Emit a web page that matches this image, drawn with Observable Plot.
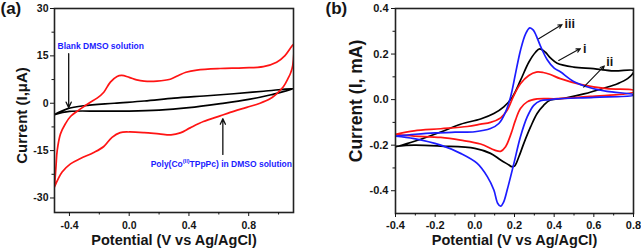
<!DOCTYPE html>
<html><head><meta charset="utf-8">
<script src="https://cdn.jsdelivr.net/npm/d3@7"></script>
<script src="https://cdn.jsdelivr.net/npm/@observablehq/plot@0.6"></script>
<style>
html,body{margin:0;padding:0;background:#fff;}
#wrap{position:relative;width:641px;height:252px;overflow:hidden;background:#fff;}
#pa{position:absolute;left:0;top:0;}
#pb{position:absolute;left:320px;top:0;}
svg{overflow:visible;}
</style></head><body><div id="wrap"><div id="pa"></div><div id="pb"></div></div>
<script>
// ---------- Panel (a) data ----------
const polyE = [-0.5,-0.49,-0.482,-0.46,-0.427,-0.393,-0.326,-0.26,-0.215,-0.17,-0.126,-0.081,-0.05,0.0,0.05,0.1,0.186,0.275,0.33,0.38,0.453,0.609,0.765,0.898,0.987,1.043,1.088,1.1,1.095,1.08,1.065,1.032,0.987,0.943,0.876,0.787,0.676,0.609,0.497,0.408,0.342,0.28,0.2,0.1,0.0,-0.06,-0.115,-0.17,-0.237,-0.326,-0.393,-0.449,-0.5];
const polyI = [-26.5,-20,-15.0,-9.7,-6.5,-4.2,-1.8,0.3,1.6,3.5,6.7,8.5,8.8,8.2,7.4,7.0,7.0,7.6,8.8,9.8,10.5,11.0,11.2,11.6,13.0,15.1,18.0,18.6,12,9.5,8.0,5.2,3.0,1.4,0.0,-1.3,-2.9,-4.0,-5.8,-7.8,-9.4,-10.0,-9.7,-9.3,-9.1,-9.3,-10.8,-13.7,-15.6,-17.5,-19.2,-21.8,-26.5];
const blankE = [-0.5,-0.415,-0.304,-0.1,0.1,0.3,0.5,0.7,0.9,1.1,0.95,0.8,0.6,0.4,0.2,0.0,-0.2,-0.4,-0.5];
const blankI = [-3.6,-1.8,-0.8,0.0,0.7,1.6,2.3,3.0,3.8,4.6,2.7,1.2,-0.2,-1.4,-2.2,-2.5,-2.5,-2.6,-3.6];
const aXTicks = [-0.4, 0.0, 0.4, 0.8];
const aXTickLabels = ["-0.4", "0.0", "0.4", "0.8"];
const aXMinor = [-0.2, 0.2, 0.6, 1.0];
const aYTicks = [-30, -15, 0, 15, 30];
const aYTickLabels = ["-30", "-15", "0", "15", "30"];
const aYMinor = [-22.5, -7.5, 7.5, 22.5];
const aXTitle = "Potential (V vs Ag/AgCl)";
const aYTitle = "Current (I,\u03bcA)";
const aPanel = "(a)";
const aNotes = [
  {text: "Blank DMSO solution", E: -0.48, I: 18.0},
  {text: "Poly(Co(II)TPpPc) in DMSO solution", E: 1.09, I: -19.2}
];
const aArrows = [
  {E1: -0.405, I1: 15.7, E2: -0.405, I2: -1.4},
  {E1: 0.627, I1: -16.2, E2: 0.627, I2: -4.9}
];

// ---------- Panel (b) data ----------
const iE = [-0.4,-0.3,-0.172,-0.072,0.029,0.096,0.146,0.189,0.23,0.272,0.306,0.327,0.356,0.381,0.415,0.498,0.599,0.7,0.8,0.8,0.77,0.72,0.65,0.55,0.45,0.381,0.347,0.314,0.281,0.247,0.222,0.2,0.185,0.172,0.13,0.079,0.0,-0.172,-0.306,-0.4];
const iI = [-0.208,-0.182,-0.142,-0.108,-0.085,-0.061,-0.032,0.011,0.084,0.164,0.208,0.223,0.208,0.183,0.16,0.143,0.136,0.126,0.128,0.12,0.092,0.07,0.05,0.025,0.006,-0.002,-0.025,-0.061,-0.12,-0.192,-0.251,-0.292,-0.294,-0.287,-0.265,-0.236,-0.214,-0.204,-0.2,-0.205];
const iiE = [-0.4,-0.306,-0.172,-0.038,0.029,0.079,0.13,0.163,0.197,0.23,0.272,0.31,0.345,0.381,0.431,0.532,0.666,0.8,0.8,0.582,0.415,0.314,0.264,0.23,0.205,0.18,0.155,0.13,0.1,0.029,-0.072,-0.172,-0.306,-0.4];
const iiI = [-0.152,-0.137,-0.128,-0.118,-0.108,-0.1,-0.08,-0.047,0.019,0.07,0.106,0.121,0.119,0.11,0.092,0.067,0.048,0.041,0.033,0.014,0.004,0.003,-0.01,-0.039,-0.09,-0.156,-0.207,-0.227,-0.222,-0.195,-0.178,-0.166,-0.16,-0.154];
const iiiE = [-0.4,-0.3,-0.2,-0.1,0.0,0.079,0.121,0.155,0.18,0.205,0.23,0.256,0.277,0.295,0.31,0.331,0.365,0.4,0.431,0.498,0.582,0.666,0.8,0.8,0.6,0.415,0.381,0.331,0.297,0.264,0.23,0.197,0.163,0.145,0.13,0.115,0.096,0.063,0.012,-0.072,-0.172,-0.306,-0.4];
const iiiI = [-0.16,-0.152,-0.146,-0.143,-0.141,-0.127,-0.105,-0.054,0.011,0.114,0.216,0.289,0.315,0.305,0.28,0.235,0.175,0.138,0.122,0.08,0.052,0.036,0.022,0.019,0.01,0.003,0.0,-0.005,-0.025,-0.076,-0.163,-0.28,-0.397,-0.45,-0.468,-0.455,-0.397,-0.338,-0.28,-0.236,-0.2,-0.171,-0.16];
const bXTicks = [-0.4, -0.2, 0.0, 0.2, 0.4, 0.6, 0.8];
const bXTickLabels = ["-0.4", "-0.2", "0.0", "0.2", "0.4", "0.6", "0.8"];
const bXMinor = [-0.3, -0.1, 0.1, 0.3, 0.5, 0.7];
const bYTicks = [-0.4, -0.2, 0.0, 0.2, 0.4];
const bYTickLabels = ["-0.4", "-0.2", "0.0", "0.2", "0.4"];
const bYMinor = [-0.3, -0.1, 0.1, 0.3];
const bXTitle = "Potential (V vs Ag/AgCl)";
const bYTitle = "Current (I, mA)";
const bPanel = "(b)";
const bNotes = [
  {text: "iii", E: 0.452, I: 0.332},
  {text: "i", E: 0.546, I: 0.223},
  {text: "ii", E: 0.663, I: 0.167}
];
const bArrows = [
  {E1: 0.322, I1: 0.267, E2: 0.44, I2: 0.330},
  {E1: 0.423, I1: 0.172, E2: 0.532, I2: 0.224},
  {E1: 0.549, I1: 0.055, E2: 0.653, I2: 0.148}
];

// ---------- helpers ----------
const rows = (E, I) => E.map((e, k) => ({E: e, I: I[k]}));
const fmt = (ticks, labels) => { const m = new Map(ticks.map((t, k) => [t, labels[k]])); return d => m.get(d) ?? ""; };
const INK = "#151515";
const RED = "#ff1414";
const BLUE = "#1c1cff";
const FONT = "'Liberation Sans', Arial, Helvetica, sans-serif";

// ---------- Panel (a) ----------
const plotA = Plot.plot({
  width: 320, height: 252,
  marginLeft: 54, marginRight: 27, marginTop: 8, marginBottom: 40,
  x: {domain: [-0.5, 1.1]},
  y: {domain: [-34.6, 30]},
  style: {fontFamily: FONT, fontWeight: "bold", fontSize: "10.5px", color: INK, background: "white", overflow: "visible"},
  marks: [
    Plot.line(rows(blankE, blankI), {x: "E", y: "I", stroke: "#000", strokeWidth: 1.7, curve: "catmull-rom", clip: true}),
    Plot.line(rows(polyE, polyI), {x: "E", y: "I", stroke: RED, strokeWidth: 1.7, curve: "catmull-rom", clip: true}),
    Plot.frame({stroke: "#222", strokeWidth: 1.6}),
    Plot.axisX({ticks: aXTicks, tickSize: 4, tickPadding: 5, tickFormat: fmt(aXTicks, aXTickLabels), label: null, stroke: INK}),
    Plot.axisX({ticks: aXMinor, tickSize: 2.5, tickFormat: () => "", label: null, stroke: INK}),
    Plot.axisY({ticks: aYTicks, tickSize: 4, tickPadding: 2, tickFormat: fmt(aYTicks, aYTickLabels), label: null, stroke: INK}),
    Plot.axisY({ticks: aYMinor, tickSize: 2.5, tickFormat: () => "", label: null, stroke: INK}),
    Plot.text([aXTitle], {text: d => d, frameAnchor: "bottom", dy: 28, textAnchor: "middle", lineAnchor: "middle", fontSize: 14.5, fontWeight: "bold", fill: INK}),
    Plot.text([aYTitle], {text: d => d, frameAnchor: "left", rotate: -90, dx: -32, dy: 5, textAnchor: "middle", lineAnchor: "middle", fontSize: 15, fontWeight: "bold", fill: INK}),
    Plot.text([aPanel], {text: d => d, frameAnchor: "top-left", dx: -54, dy: 0, textAnchor: "start", lineAnchor: "middle", fontSize: 17, fontWeight: "bold", fill: INK}),
    Plot.text([aNotes[0]], {x: "E", y: "I", text: "text", textAnchor: "start", fontSize: 8.5, fontWeight: "bold", fill: BLUE}),
    Plot.text([aNotes[1]], {x: "E", y: "I", text: "text", textAnchor: "end", fontSize: 8.5, fontWeight: "bold", fill: BLUE}),
    Plot.arrow(aArrows, {x1: "E1", y1: "I1", x2: "E2", y2: "I2", stroke: "#111", strokeWidth: 1.3, headLength: 7, headAngle: 50})
  ]
});
document.getElementById("pa").appendChild(plotA);

// superscript (II)
d3.select(plotA).selectAll("text").filter(function () { return this.textContent === aNotes[1].text; }).each(function () {
  const parts = aNotes[1].text.split("(II)");
  const t = d3.select(this);
  t.text(null);
  t.append("tspan").text(parts[0]);
  t.append("tspan").attr("font-size", 5.5).attr("dy", -3.5).text("(II)");
  t.append("tspan").attr("dy", 3.5).text(parts[1]);
});

// ---------- Panel (b) ----------
const plotB = Plot.plot({
  width: 321, height: 252,
  marginLeft: 75, marginRight: 8, marginTop: 8, marginBottom: 39,
  x: {domain: [-0.4, 0.8]},
  y: {domain: [-0.5, 0.4]},
  style: {fontFamily: FONT, fontWeight: "bold", fontSize: "11px", color: INK, background: "white", overflow: "visible"},
  marks: [
    Plot.line(rows(iE, iI), {x: "E", y: "I", stroke: "#000", strokeWidth: 1.7, curve: "catmull-rom", clip: true}),
    Plot.line(rows(iiE, iiI), {x: "E", y: "I", stroke: RED, strokeWidth: 1.7, curve: "catmull-rom", clip: true}),
    Plot.line(rows(iiiE, iiiI), {x: "E", y: "I", stroke: BLUE, strokeWidth: 1.7, curve: "catmull-rom", clip: true}),
    Plot.frame({stroke: "#222", strokeWidth: 1.6}),
    Plot.axisX({ticks: bXTicks, tickSize: 4, tickPadding: 4, tickFormat: fmt(bXTicks, bXTickLabels), label: null, stroke: INK}),
    Plot.axisX({ticks: bXMinor, tickSize: 2.5, tickFormat: () => "", label: null, stroke: INK}),
    Plot.axisY({ticks: bYTicks, tickSize: 4, tickPadding: 3, tickFormat: fmt(bYTicks, bYTickLabels), label: null, stroke: INK}),
    Plot.axisY({ticks: bYMinor, tickSize: 2.5, tickFormat: () => "", label: null, stroke: INK}),
    Plot.text([bXTitle], {text: d => d, frameAnchor: "bottom", dy: 26.5, textAnchor: "middle", lineAnchor: "middle", fontSize: 14.5, fontWeight: "bold", fill: INK}),
    Plot.text([bYTitle], {text: d => d, frameAnchor: "left", rotate: -90, dx: -39, dy: -10, textAnchor: "middle", lineAnchor: "middle", fontSize: 17.5, fontWeight: "bold", fill: INK}),
    Plot.text([bPanel], {text: d => d, frameAnchor: "top-left", dx: -70, dy: 0, textAnchor: "start", lineAnchor: "middle", fontSize: 17, fontWeight: "bold", fill: INK}),
    Plot.text(bNotes, {x: "E", y: "I", text: "text", textAnchor: "start", fontSize: 12.5, fontWeight: "bold", fill: INK}),
    Plot.arrow(bArrows, {x1: "E1", y1: "I1", x2: "E2", y2: "I2", stroke: "#111", strokeWidth: 1.1, headLength: 6, headAngle: 50})
  ]
});
document.getElementById("pb").appendChild(plotB);
</script>
</body></html>
